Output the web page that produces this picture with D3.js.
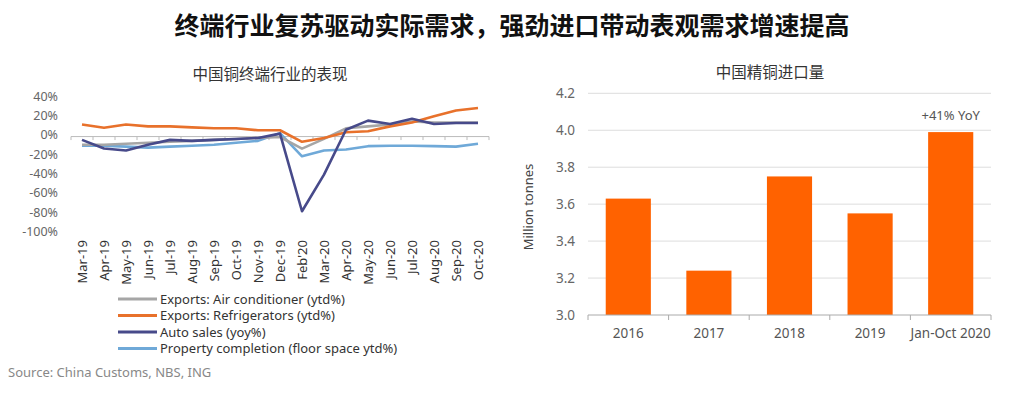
<!DOCTYPE html>
<html>
<head>
<meta charset="utf-8">
<script src="https://cdn.jsdelivr.net/npm/d3@7"></script>
<style>
  body { margin: 0; background: #fff; }
  text { font-family: "Noto Sans", "Noto Sans CJK SC", sans-serif; }
</style>
</head>
<body>
<script>
// left chart data
let months = ["Mar-19","Apr-19","May-19","Jun-19","Jul-19","Aug-19","Sep-19","Oct-19","Nov-19","Dec-19",
              "Feb'20","Mar-20","Apr-20","May-20","Jun-20","Jul-20","Aug-20","Sep-20","Oct-20"];
let airCon   = [-10,-10,-9,-8,-7,-6,-5,-4,-3,-2,-14,-4,7,9,11,14,13,13,13];
let fridges  = [11,7.5,11,9,9,8,7,7,5,5,-7,-3,3,4,9,13,19.5,25.5,28];
let autoSales = [-5,-14,-16,-10,-5,-6,-5,-4,-3,1.5,-79,-41,5.5,15,11.5,17,11.5,12.5,12.5];
let property = [-11,-11,-12,-13,-12,-11,-10,-8,-6,2,-22,-16,-15,-11.5,-11,-11,-11.5,-12,-9];
let pctTicks = [40,20,0,-20,-40,-60,-80,-100];

// right chart data
let years = ["2016","2017","2018","2019","Jan-Oct 2020"];
let imports = [3.63,3.24,3.75,3.55,3.99];
let importTicks = [3.0,3.2,3.4,3.6,3.8,4.0,4.2];

let width = 1024, height = 397;
let svg = d3.select("body").append("svg")
    .attr("width", width)
    .attr("height", height);

svg.append("text")
    .attr("x", 512).attr("y", 35)
    .attr("text-anchor", "middle")
    .style("font-family", "'Noto Sans CJK SC', sans-serif")
    .style("font-size", "25px")
    .style("font-weight", "bold")
    .attr("fill", "#111")
    .text("终端行业复苏驱动实际需求，强劲进口带动表观需求增速提高");

// ---------- left: line chart ----------
let x = d3.scalePoint().domain(months).range([71, 489]).padding(0.5);
let y = d3.scaleLinear().domain([-100, 40]).range([231.5, 96.5]);

svg.append("text")
    .attr("x", 270).attr("y", 80)
    .attr("text-anchor", "middle")
    .style("font-family", "'Noto Sans CJK SC', sans-serif")
    .style("font-size", "15.5px")
    .attr("fill", "#333")
    .text("中国铜终端行业的表现");

svg.selectAll(".ylab")
    .data(pctTicks)
    .join("text")
    .attr("class", "ylab")
    .attr("x", 58)
    .attr("y", d => y(d))
    .attr("dy", "0.35em")
    .attr("text-anchor", "end")
    .style("font-size", "12.5px")
    .attr("fill", "#666")
    .text(d => d + "%");

// x axis on the zero line
let step = x.step();
svg.append("line")
    .attr("x1", 71).attr("x2", 489)
    .attr("y1", y(0) + 1.5).attr("y2", y(0) + 1.5)
    .attr("stroke", "#bbb");
svg.selectAll(".xtick")
    .data(d3.range(months.length + 1))
    .join("line")
    .attr("class", "xtick")
    .attr("x1", i => 71 + i * step).attr("x2", i => 71 + i * step)
    .attr("y1", y(0) + 1.5).attr("y2", y(0) + 5)
    .attr("stroke", "#bbb");

svg.selectAll(".xlab")
    .data(months)
    .join("text")
    .attr("class", "xlab")
    .attr("transform", d => `translate(${x(d) + 4.5},240) rotate(-90)`)
    .attr("text-anchor", "end")
    .style("font-size", "13px")
    .attr("fill", "#333")
    .text(d => d);

let series = [
    {name: "Exports: Air conditioner (ytd%)", values: airCon, color: "#a6a6a6"},
    {name: "Exports: Refrigerators (ytd%)", values: fridges, color: "#e8712b"},
    {name: "Auto sales (yoy%)", values: autoSales, color: "#474a8a"},
    {name: "Property completion (floor space ytd%)", values: property, color: "#6fa9d8"}
];
let drawOrder = [series[3], series[0], series[1], series[2]];

let line = d3.line()
    .x((d, i) => x(months[i]))
    .y(d => y(d));

svg.selectAll(".series")
    .data(drawOrder)
    .join("path")
    .attr("class", "series")
    .attr("d", d => line(d.values))
    .attr("fill", "none")
    .attr("stroke", d => d.color)
    .attr("stroke-width", 2.6)
    .attr("stroke-linejoin", "round");

let legend = svg.append("g").attr("transform", "translate(118,299)");
legend.selectAll("line")
    .data(series)
    .join("line")
    .attr("x1", 0).attr("x2", 39)
    .attr("y1", (d, i) => i * 16.5).attr("y2", (d, i) => i * 16.5)
    .attr("stroke", d => d.color)
    .attr("stroke-width", 3);
legend.selectAll("text")
    .data(series)
    .join("text")
    .attr("x", 42)
    .attr("y", (d, i) => i * 16.5)
    .attr("dy", "0.35em")
    .style("font-size", "13px")
    .attr("fill", "#333")
    .text(d => d.name);

svg.append("text")
    .attr("x", 8).attr("y", 377)
    .style("font-size", "13px")
    .attr("fill", "#888")
    .text("Source: China Customs, NBS, ING");

// ---------- right: bar chart ----------
let xb = d3.scaleBand().domain(years).range([588, 991])
    .paddingInner(0.44).paddingOuter(0.22);
let yb = d3.scaleLinear().domain([3.0, 4.2]).range([315, 93.3]);

svg.append("text")
    .attr("x", 770).attr("y", 78)
    .attr("text-anchor", "middle")
    .style("font-family", "'Noto Sans CJK SC', sans-serif")
    .style("font-size", "15.5px")
    .attr("fill", "#333")
    .text("中国精铜进口量");

svg.selectAll(".grid")
    .data(importTicks.slice(1))
    .join("line")
    .attr("class", "grid")
    .attr("x1", 588).attr("x2", 991)
    .attr("y1", d => yb(d)).attr("y2", d => yb(d))
    .attr("stroke", "#ddd");

svg.selectAll(".bar")
    .data(imports)
    .join("rect")
    .attr("class", "bar")
    .attr("x", (d, i) => xb(years[i]))
    .attr("width", xb.bandwidth())
    .attr("y", d => yb(d))
    .attr("height", d => yb(3.0) - yb(d))
    .attr("fill", "#ff6200");

svg.append("line")
    .attr("x1", 588).attr("x2", 991)
    .attr("y1", yb(3.0)).attr("y2", yb(3.0))
    .attr("stroke", "#aaa");
svg.selectAll(".btick")
    .data(d3.range(years.length + 1))
    .join("line")
    .attr("class", "btick")
    .attr("x1", i => 588 + i * xb.step()).attr("x2", i => 588 + i * xb.step())
    .attr("y1", yb(3.0)).attr("y2", yb(3.0) + 5)
    .attr("stroke", "#aaa");

svg.selectAll(".bylab")
    .data(importTicks)
    .join("text")
    .attr("class", "bylab")
    .attr("x", 575)
    .attr("y", d => yb(d))
    .attr("dy", "0.35em")
    .attr("text-anchor", "end")
    .style("font-size", "13.5px")
    .attr("fill", "#666")
    .text(d => d.toFixed(1));

svg.selectAll(".bxlab")
    .data(years)
    .join("text")
    .attr("class", "bxlab")
    .attr("x", d => xb(d) + xb.bandwidth() / 2)
    .attr("y", 338)
    .attr("text-anchor", "middle")
    .style("font-size", "13.5px")
    .attr("fill", "#555")
    .text(d => d);

svg.append("text")
    .attr("transform", "translate(533,207) rotate(-90)")
    .attr("text-anchor", "middle")
    .style("font-size", "13px")
    .attr("fill", "#444")
    .text("Million tonnes");

svg.append("text")
    .attr("x", xb(years[4]) + xb.bandwidth() / 2)
    .attr("y", yb(imports[4]) - 12)
    .attr("text-anchor", "middle")
    .style("font-size", "13px")
    .attr("fill", "#555")
    .text("+41% YoY");
</script>
</body>
</html>
